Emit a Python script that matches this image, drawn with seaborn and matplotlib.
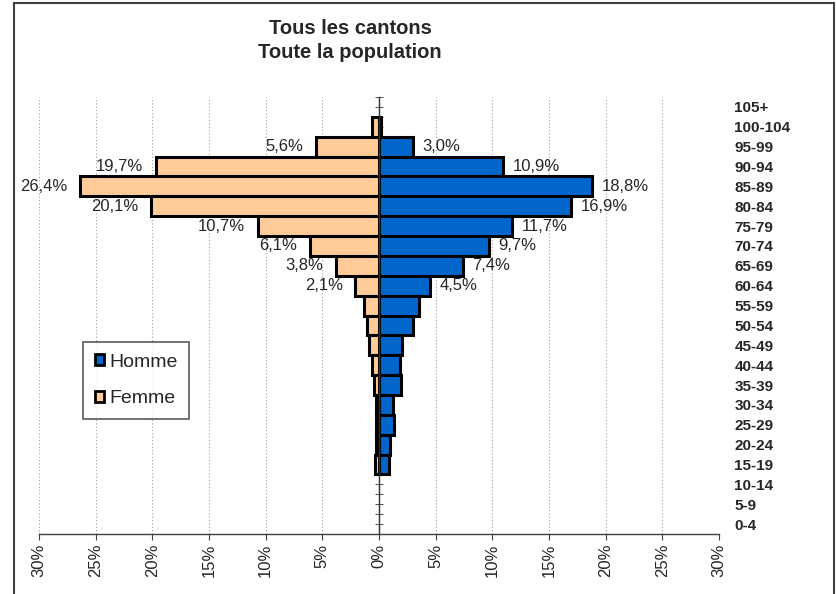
import numpy as np
import pandas as pd
import matplotlib
matplotlib.use("Agg")
import matplotlib.pyplot as plt
from matplotlib.patches import Patch, Rectangle
import seaborn as sns

# ---- data -------------------------------------------------------------
ages = ["105+", "100-104", "95-99", "90-94", "85-89", "80-84", "75-79",
        "70-74", "65-69", "60-64", "55-59", "50-54", "45-49", "40-44",
        "35-39", "30-34", "25-29", "20-24", "15-19", "10-14", "5-9", "0-4"]
homme = [0.0, 0.2, 3.0, 10.9, 18.8, 16.9, 11.7, 9.7, 7.4, 4.5, 3.5, 3.0,
         2.0, 1.85, 1.9, 1.25, 1.35, 1.0, 0.9, 0.0, 0.0, 0.0]
femme = [0.0, 0.6, 5.6, 19.7, 26.4, 20.1, 10.7, 6.1, 3.8, 2.1, 1.3, 1.1,
         0.9, 0.6, 0.4, 0.3, 0.3, 0.3, 0.35, 0.0, 0.0, 0.0]
labelled = ["95-99", "90-94", "85-89", "80-84", "75-79", "70-74", "65-69", "60-64"]
xticks = [-30, -25, -20, -15, -10, -5, 0, 5, 10, 15, 20, 25, 30]
series = ["Homme", "Femme"]
colors = {"Homme": "#0066CC", "Femme": "#FFCC99"}

rows = []
for a, h, f in zip(ages, homme, femme):
    if h > 0:
        rows.append({"age": a, "sexe": "Homme", "value": h})
    if f > 0:
        rows.append({"age": a, "sexe": "Femme", "value": -f})
df = pd.DataFrame(rows)

# ---- style ------------------------------------------------------------
sns.set_style("white")
plt.rcParams["font.family"] = ["Liberation Sans", "DejaVu Sans"]

fig = plt.figure(figsize=(8.36, 5.94), dpi=100)
ax = fig.add_axes([39 / 836, 60 / 594, 680 / 836, 437 / 594])

sns.barplot(data=df, x="value", y="age", hue="sexe", order=ages,
            hue_order=series, palette=colors, saturation=1, dodge=False,
            width=1.0, edgecolor="black", linewidth=2.2, orient="h", ax=ax,
            legend=False, errorbar=None)

ax.set_xlim(-30, 30)
ax.set_ylim(len(ages) - 0.5, -0.5)
ax.set_xlabel("")
ax.set_ylabel("")

# x axis
ax.set_xticks(xticks)
ax.set_xticklabels([f"{abs(v)}%" for v in xticks], rotation=90, fontsize=12)
ax.tick_params(axis="x", which="major", direction="out", length=4,
               color="#404040", pad=3, bottom=True)
ax.grid(axis="x", linestyle=(0, (1, 2)), color="#a0a0a0", linewidth=0.8)
ax.grid(axis="y", visible=False)
ax.set_axisbelow(True)

# y axis: line at 0, labels on right
for s in ["top", "right"]:
    ax.spines[s].set_visible(False)
ax.spines["left"].set_position(("data", 0))
ax.spines["left"].set_color("#303030")
ax.spines["left"].set_linewidth(1)
ax.spines["left"].set_zorder(5)
ax.spines["bottom"].set_color("#404040")
ax.spines["bottom"].set_linewidth(1)
ax.yaxis.remove_overlapping_locs = False
ax.set_yticks(range(len(ages)))
ax.set_yticklabels(ages, fontsize=11, fontweight="bold")
ax.set_yticks(np.arange(-0.5, len(ages), 0.5), minor=True)
ax.tick_params(axis="y", which="major", left=False, right=False,
               labelleft=False, labelright=True, length=0, pad=11)
ax.tick_params(axis="y", which="minor", left=True, right=False,
               direction="inout", length=6, color="#303030")

# data labels
def fmt(v):
    return f"{v:.1f}".replace(".", ",") + "%"

for i, a in enumerate(ages):
    if a in labelled:
        ax.annotate(fmt(femme[i]), xy=(-femme[i], i), xytext=(-9, 0),
                    textcoords="offset points", ha="right", va="center",
                    fontsize=12)
        ax.annotate(fmt(homme[i]), xy=(homme[i], i), xytext=(7, 0),
                    textcoords="offset points", ha="left", va="center",
                    fontsize=12)

# legend
handles = [Patch(facecolor=colors[s], edgecolor="black", linewidth=2, label=s)
           for s in series]
leg = ax.legend(handles=handles, loc="upper left",
                bbox_to_anchor=(83 / 836, 1 - 342 / 594),
                bbox_transform=fig.transFigure, borderaxespad=0,
                fontsize=14, handlelength=0.5, handleheight=0.5,
                handletextpad=0.25, labelspacing=1.0, borderpad=0.6,
                fancybox=False, frameon=True)
leg.get_frame().set_edgecolor("#303030")
leg.get_frame().set_linewidth(1.2)

# title
fig.text(350 / 836, 1 - 28 / 594, "Tous les cantons", ha="center",
         va="center", fontsize=14.5, fontweight="bold")
fig.text(350 / 836, 1 - 52 / 594, "Toute la population", ha="center",
         va="center", fontsize=14.5, fontweight="bold")

# outer frame
fig.add_artist(Rectangle((14 / 836, -0.02), (834 - 14) / 836, 1 - 3 / 594 + 0.02,
                         fill=False, edgecolor="#404040", linewidth=1.5,
                         transform=fig.transFigure))

fig.savefig("out.png", dpi=100)
